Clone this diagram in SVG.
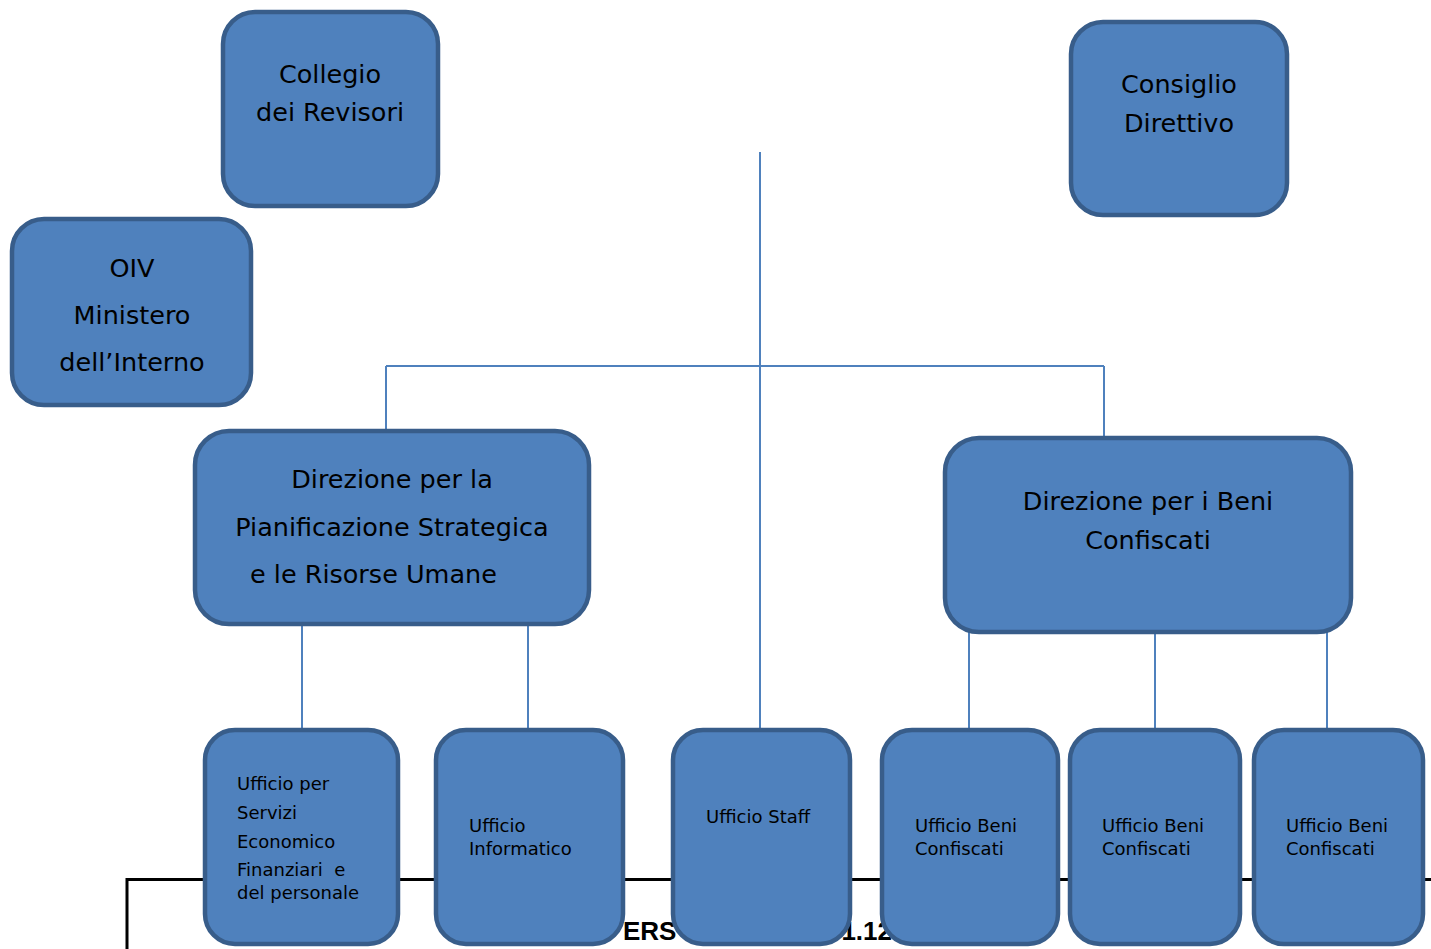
<svg xmlns="http://www.w3.org/2000/svg" width="1431" height="949" viewBox="0 0 1431 949">
<style>
.box{fill:#4f81bd;stroke:#385d8a;stroke-width:4.5}
.t{font-family:"DejaVu Sans",Verdana,sans-serif;fill:#000}
.big{font-size:25.5px;text-anchor:middle}
.sm{font-size:18px}
.con line{stroke:#4f81bd;stroke-width:2}
.frame{fill:none;stroke:#000;stroke-width:3}
.ft{font-family:"Liberation Sans",Arial,sans-serif;font-weight:bold;font-size:26px;fill:#000}
</style>
<rect width="1431" height="949" fill="#fff"/>
<g id="connectors" class="con">
<line x1="760" y1="152" x2="760" y2="731"/>
<line x1="386" y1="366" x2="1104" y2="366"/>
<line x1="386" y1="366" x2="386" y2="432"/>
<line x1="1104" y1="366" x2="1104" y2="439"/>
<line x1="302" y1="624" x2="302" y2="731"/>
<line x1="528" y1="624" x2="528" y2="731"/>
<line x1="969" y1="632" x2="969" y2="731"/>
<line x1="1155" y1="632" x2="1155" y2="731"/>
<line x1="1327" y1="632" x2="1327" y2="731"/>
</g>
<g id="footer">
<path class="frame" d="M127 949 V879.5 H1431"/>
<text class="ft" x="623" y="940">ERS</text>
<text class="ft" x="892" y="940" text-anchor="end">1.12</text>
</g>
<g id="collegio">
<rect class="box" x="223" y="12" width="215" height="194" rx="32"/>
<text class="t big" x="330" y="83">Collegio</text>
<text class="t big" x="330" y="121">dei Revisori</text>
</g>
<g id="consiglio">
<rect class="box" x="1071" y="22" width="216" height="193" rx="32"/>
<text class="t big" x="1179" y="93">Consiglio</text>
<text class="t big" x="1179" y="132">Direttivo</text>
</g>
<g id="oiv">
<rect class="box" x="12" y="219" width="239" height="186" rx="32"/>
<text class="t big" x="132" y="277">OIV</text>
<text class="t big" x="132" y="324">Ministero</text>
<text class="t big" x="132" y="371">dell’Interno</text>
</g>
<g id="dir-ps">
<rect class="box" x="195" y="431" width="394" height="193" rx="34"/>
<text class="t big" x="392" y="488">Direzione per la</text>
<text class="t big" x="392" y="536">Pianificazione Strategica</text>
<text class="t big" x="250" y="583" style="text-anchor:start">e le Risorse Umane</text>
</g>
<g id="dir-bc">
<rect class="box" x="945" y="438" width="406" height="194" rx="34"/>
<text class="t big" x="1148" y="510">Direzione per i Beni</text>
<text class="t big" x="1148" y="549">Confiscati</text>
</g>
<g id="uff-servizi">
<rect class="box" x="205" y="730" width="193" height="214" rx="30"/>
<text class="t sm" x="237" y="790">Ufficio per</text>
<text class="t sm" x="237" y="819">Servizi</text>
<text class="t sm" x="237" y="848">Economico</text>
<text class="t sm" x="237" y="876" xml:space="preserve">Finanziari  e</text>
<text class="t sm" x="237" y="899">del personale</text>
</g>
<g id="uff-informatico">
<rect class="box" x="436" y="730" width="187" height="214" rx="30"/>
<text class="t sm" x="469" y="832">Ufficio</text>
<text class="t sm" x="469" y="855">Informatico</text>
</g>
<g id="uff-staff">
<rect class="box" x="673" y="730" width="177" height="214" rx="30"/>
<text class="t sm" x="706" y="823">Ufficio Staff</text>
</g>
<g id="uff-beni-1">
<rect class="box" x="882" y="730" width="176" height="214" rx="30"/>
<text class="t sm" x="915" y="832">Ufficio Beni</text>
<text class="t sm" x="915" y="855">Confiscati</text>
</g>
<g id="uff-beni-2">
<rect class="box" x="1070" y="730" width="170" height="214" rx="30"/>
<text class="t sm" x="1102" y="832">Ufficio Beni</text>
<text class="t sm" x="1102" y="855">Confiscati</text>
</g>
<g id="uff-beni-3">
<rect class="box" x="1254" y="730" width="169" height="214" rx="30"/>
<text class="t sm" x="1286" y="832">Ufficio Beni</text>
<text class="t sm" x="1286" y="855">Confiscati</text>
</g>
</svg>
